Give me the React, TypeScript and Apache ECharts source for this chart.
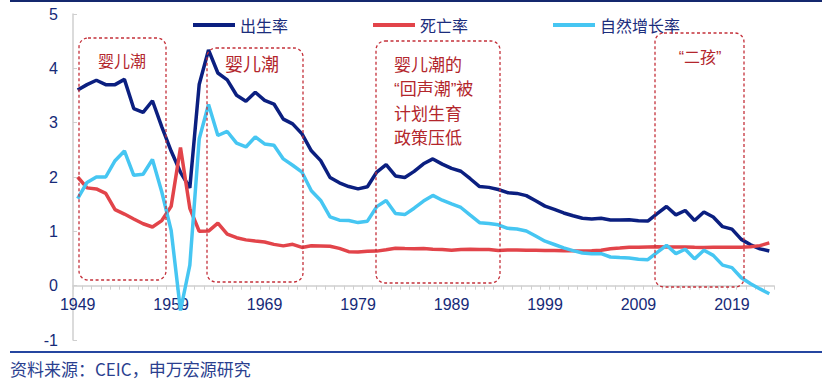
import React, { useEffect, useRef } from "react";
import * as echarts from "echarts";

const years: string[] = [];
for (let y = 1949; y <= 2023; y++) years.push(String(y));

const birthRate = [3.6, 3.7, 3.78, 3.7, 3.7, 3.797, 3.26, 3.19, 3.403, 2.922, 2.478, 2.086, 1.802, 3.701, 4.337, 3.914, 3.788, 3.505, 3.396, 3.559, 3.411, 3.343, 3.065, 2.977, 2.793, 2.482, 2.301, 1.991, 1.893, 1.825, 1.782, 1.821, 2.091, 2.228, 2.019, 1.99, 2.104, 2.243, 2.333, 2.237, 2.158, 2.106, 1.968, 1.824, 1.809, 1.77, 1.712, 1.698, 1.657, 1.564, 1.464, 1.403, 1.338, 1.286, 1.241, 1.229, 1.24, 1.209, 1.21, 1.214, 1.195, 1.19, 1.327, 1.457, 1.303, 1.383, 1.199, 1.357, 1.264, 1.086, 1.041, 0.852, 0.752, 0.677, 0.639];

const deathRate = [2.0, 1.8, 1.78, 1.7, 1.4, 1.318, 1.228, 1.14, 1.08, 1.198, 1.459, 2.543, 1.424, 1.002, 1.004, 1.15, 0.95, 0.883, 0.843, 0.821, 0.803, 0.76, 0.732, 0.761, 0.704, 0.734, 0.732, 0.725, 0.687, 0.625, 0.621, 0.634, 0.636, 0.66, 0.69, 0.682, 0.678, 0.686, 0.672, 0.664, 0.654, 0.667, 0.67, 0.664, 0.664, 0.649, 0.657, 0.656, 0.651, 0.65, 0.646, 0.645, 0.643, 0.641, 0.64, 0.642, 0.651, 0.681, 0.693, 0.706, 0.708, 0.711, 0.714, 0.713, 0.713, 0.712, 0.707, 0.704, 0.706, 0.708, 0.709, 0.707, 0.718, 0.737, 0.787];

const naturalRate = [1.6, 1.9, 2.0, 2.0, 2.3, 2.479, 2.032, 2.05, 2.323, 1.724, 1.019, -0.457, 0.378, 2.699, 3.333, 2.764, 2.838, 2.622, 2.553, 2.738, 2.608, 2.583, 2.333, 2.216, 2.089, 1.748, 1.569, 1.266, 1.206, 1.2, 1.161, 1.187, 1.455, 1.568, 1.329, 1.308, 1.426, 1.557, 1.661, 1.573, 1.504, 1.439, 1.298, 1.16, 1.145, 1.121, 1.055, 1.042, 1.006, 0.914, 0.818, 0.758, 0.695, 0.645, 0.601, 0.587, 0.589, 0.528, 0.517, 0.508, 0.487, 0.479, 0.613, 0.743, 0.59, 0.671, 0.493, 0.653, 0.558, 0.378, 0.332, 0.145, 0.034, -0.06, -0.148];

const seriesNames = ["出生率", "死亡率", "自然增长率"];
const seriesColors = ["#0b1f80", "#e2444a", "#46c6f2"];
const yTicks = { min: -1, max: 5, interval: 1 };

const FONT = "'Liberation Sans', 'Noto Sans CJK SC', sans-serif";
const CJK = "'Noto Sans CJK SC', sans-serif";
const ANN = "#b3262c";
const BOX = "#c4303a";

const GRID = { left: 73, right: 57, top: 14, bottom: 41 };
const CHART_H = 381;

export default function App() {
  const ref = useRef<HTMLDivElement>(null);
  useEffect(() => {
    if (!ref.current) return;
    const chart = echarts.init(ref.current, null, { renderer: "svg" });
    const boxStyle = { fill: "none", stroke: BOX, lineWidth: 1.3, lineDash: [3, 2.5] };
    const gridH = CHART_H - GRID.top - GRID.bottom;
    const zeroOffset = -gridH * (0 - yTicks.min) / (yTicks.max - yTicks.min);
    chart.setOption({
      animation: false,
      backgroundColor: "#ffffff",
      textStyle: { fontFamily: FONT },
      grid: GRID,
      legend: {
        left: 188,
        top: 12,
        icon: "rect",
        itemWidth: 42,
        itemHeight: 4,
        itemGap: 85,
        textStyle: { fontSize: 16, color: "#1b2d7c", fontFamily: CJK },
        data: seriesNames,
      },
      xAxis: {
        type: "category",
        data: years,
        boundaryGap: true,
        position: "bottom",
        offset: zeroOffset,
        axisLine: { show: true, onZero: false, lineStyle: { color: "#cfcfcf", width: 1.5 } },
        axisTick: { show: true, interval: 0, length: 4, lineStyle: { color: "#cfcfcf" } },
        axisLabel: { interval: 9, fontSize: 16, color: "#162a78", margin: 11, fontFamily: FONT },
      },
      yAxis: {
        type: "value",
        min: yTicks.min,
        max: yTicks.max,
        interval: yTicks.interval,
        splitLine: { show: false },
        axisLine: { show: true, lineStyle: { color: "#cfcfcf", width: 1.5 } },
        axisTick: { show: true, inside: true, length: 4, lineStyle: { color: "#cfcfcf" } },
        axisLabel: { fontSize: 16, color: "#162a78", margin: 15, fontFamily: FONT },
      },
      series: [birthRate, deathRate, naturalRate].map((d, i) => ({
        name: seriesNames[i],
        type: "line",
        data: d,
        symbol: "none",
        color: seriesColors[i],
        lineStyle: { width: 3.5, color: seriesColors[i] },
      })),
      graphic: [
        { type: "rect", left: 10, top: 0, shape: { width: 812, height: 2 }, style: { fill: "#14286e" } },
        { type: "rect", left: 10, top: 351, shape: { width: 812, height: 2 }, style: { fill: "#2546a0" } },
        {
          type: "text", x: 10, y: 368.5,
          style: { text: "资料来源：CEIC，申万宏源研究", fontSize: 17, lineHeight: 18, fill: "#2b3f8f", fontFamily: CJK, verticalAlign: "middle" },
        },
        { type: "rect", shape: { x: 79, y: 38, width: 87, height: 242, r: 9 }, style: boxStyle, z: 10 },
        { type: "rect", shape: { x: 207, y: 48, width: 96, height: 234, r: 9 }, style: boxStyle, z: 10 },
        { type: "rect", shape: { x: 376, y: 41, width: 124, height: 242, r: 9 }, style: boxStyle, z: 10 },
        { type: "rect", shape: { x: 655, y: 33, width: 89, height: 254, r: 9 }, style: boxStyle, z: 10 },
        {
          type: "text", x: 122, y: 60, z: 10,
          style: { text: "婴儿潮", fontSize: 16, fill: ANN, fontFamily: CJK, align: "center", verticalAlign: "middle" },
        },
        {
          type: "text", x: 252, y: 63, z: 10,
          style: { text: "婴儿潮", fontSize: 18, fill: ANN, fontFamily: CJK, align: "center", verticalAlign: "middle" },
        },
        {
          type: "text", x: 394, y: 53, z: 10,
          style: {
            text: "婴儿潮的\n“回声潮”被\n计划生育\n政策压低",
            fontSize: 17, lineHeight: 24.5, fill: ANN, fontFamily: FONT, align: "left", verticalAlign: "top",
          },
        },
        {
          type: "text", x: 700, y: 57, z: 10,
          style: { text: "“二孩”", fontSize: 16, fill: ANN, fontFamily: FONT, align: "center", verticalAlign: "middle" },
        },
      ],
    });
    return () => chart.dispose();
  }, []);
  return (
    <div
      ref={ref}
      style={{ position: "fixed", left: 0, top: 0, width: 831, height: CHART_H, background: "#fff" }}
    />
  );
}
